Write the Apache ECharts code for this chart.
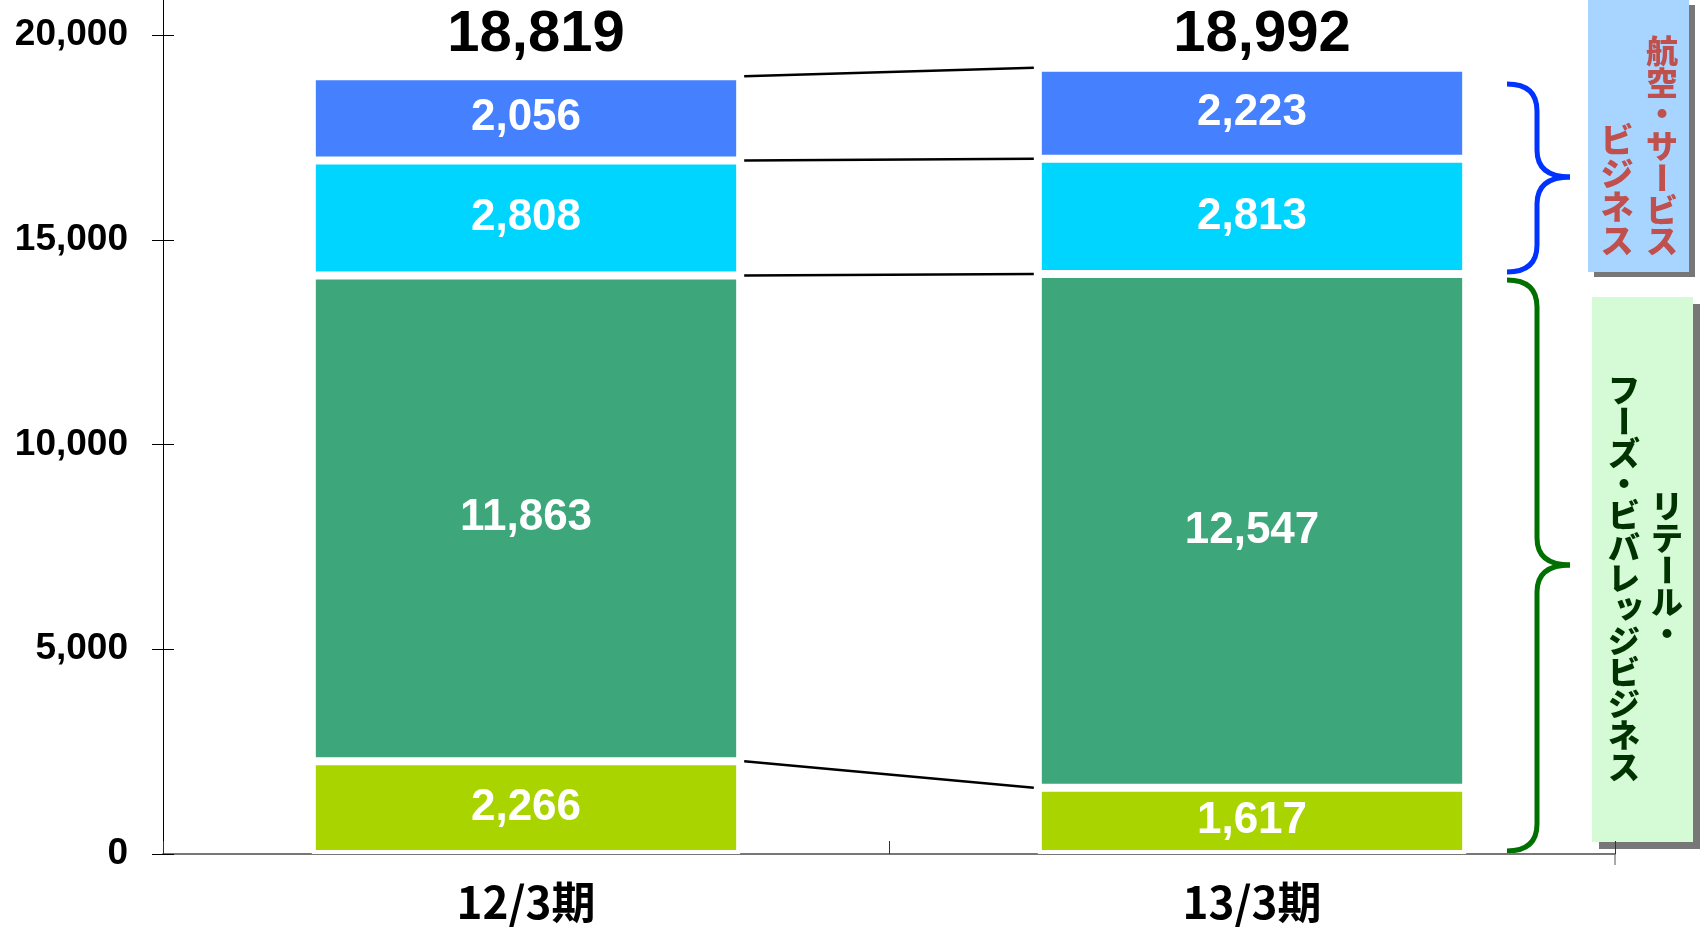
<!DOCTYPE html>
<html>
<head>
    <meta charset="utf-8" />
    <title>セグメント別売上高</title>
    <script src="https://cdn.jsdelivr.net/npm/echarts@6/dist/echarts.min.js"></script>
    <style>
        html, body { margin: 0; padding: 0; background: #fff; }
        #chart { width: 1700px; height: 927px; }
    </style>
</head>
<body>
    <div id="chart"></div>
    <script type="text/javascript">
        // 期
        const periods = ['12/3期', '13/3期'];
        // セグメント（下から積み上げ順）
        const retailSmall = [2266, 1617];    // 黄緑
        const retailMain = [11863, 12547];   // 緑
        const airService = [2808, 2813];     // 水色
        const airMain = [2056, 2223];        // 青
        // 合計（表示値）
        const totals = [18819, 18992];
        // 縦軸
        const yMin = 0, yMax = 20000, yStep = 5000;

        const layers = [retailSmall, retailMain, airService, airMain];
        const colors = ['#AAD400', '#3DA67B', '#00D5FF', '#4580FF'];
        const barRatio = 0.59;
        const numFont = 'Liberation Sans, Arial, sans-serif';
        const jpFont = '"Noto Sans CJK JP", sans-serif';

        // 積み上げの境界値（連結線用）
        const levels = [];
        let acc = [0, 0];
        layers.forEach(function (l) {
            acc = [acc[0] + l[0], acc[1] + l[1]];
            levels.push([0, acc[0], acc[1]]);
        });

        const fmt = function (v) { return v.toLocaleString('en-US'); };

        const barSeries = layers.map(function (l, i) {
            return {
                type: 'bar',
                stack: 'total',
                data: l,
                barWidth: (barRatio * 100) + '%',
                itemStyle: { color: colors[i], borderColor: '#fff', borderWidth: 4 },
                label: {
                    show: true,
                    position: 'inside',
                    color: '#fff',
                    fontSize: 44,
                    fontWeight: 'bold',
                    fontFamily: numFont,
                    formatter: function (p) { return fmt(p.value); }
                }
            };
        });

        // 波括弧
        function brace(x0, yTop, yBot, yTip, color) {
            const xs = x0 + 30, xt = x0 + 63, r = 27;
            const st = { stroke: color, lineWidth: 5, fill: null };
            return [
                { type: 'bezierCurve', shape: { x1: x0, y1: yTop, cpx1: xs, cpy1: yTop, x2: xs, y2: yTop + r }, style: st },
                { type: 'line', shape: { x1: xs, y1: yTop + r, x2: xs, y2: yTip - r }, style: st },
                { type: 'bezierCurve', shape: { x1: xs, y1: yTip - r, cpx1: xs, cpy1: yTip, x2: xt, y2: yTip }, style: st },
                { type: 'bezierCurve', shape: { x1: xt, y1: yTip, cpx1: xs, cpy1: yTip, x2: xs, y2: yTip + r }, style: st },
                { type: 'line', shape: { x1: xs, y1: yTip + r, x2: xs, y2: yBot - r }, style: st },
                { type: 'bezierCurve', shape: { x1: xs, y1: yBot - r, cpx1: xs, cpy1: yBot, x2: x0, y2: yBot }, style: st }
            ];
        }

        // 縦書きテキスト
        function vText(str, cx, top, pitch, size, color) {
            const out = [];
            Array.from(str).forEach(function (ch, i) {
                const el = {
                    type: 'text',
                    x: cx,
                    y: top + pitch * (i + 0.5),
                    style: {
                        text: ch,
                        fill: color,
                        font: '900 ' + size + 'px ' + jpFont,
                        align: 'center',
                        verticalAlign: 'middle'
                    }
                };
                if (ch === 'ー') el.rotation = -Math.PI / 2;
                if (ch === 'ッ') { el.x += 5; el.y -= 5; }
                out.push(el);
            });
            return out;
        }

        const graphics = [
            { type: 'line', shape: { x1: 163.5, y1: 0, x2: 163.5, y2: 36 }, style: { stroke: '#000', lineWidth: 1 } },
            { type: 'line', shape: { x1: 1615, y1: 854, x2: 1615, y2: 865 }, style: { stroke: '#555', lineWidth: 1 } },
            // 航空・サービス box
            { type: 'rect', shape: { x: 1594, y: 5, width: 101, height: 272 }, style: { fill: '#777' } },
            { type: 'rect', shape: { x: 1588, y: 0, width: 101, height: 272 }, style: { fill: '#A8D5FF' } },
            // リテール box
            { type: 'rect', shape: { x: 1599, y: 304, width: 101, height: 545 }, style: { fill: '#777' } },
            { type: 'rect', shape: { x: 1592, y: 297, width: 101, height: 545 }, style: { fill: '#D5FBD6' } }
        ]
            .concat(brace(1507, 84, 272, 177, '#0033FF'))
            .concat(brace(1507, 280, 851, 565, '#007000'))
            .concat(vText('航空・サービス', 1662, 35, 31.7, 32, '#C0504D'))
            .concat(vText('ビジネス', 1617, 123, 33.5, 33, '#C0504D'))
            .concat(vText('リテール・', 1667, 490, 32, 32, '#003300'))
            .concat(vText('フーズ・ビバレッジビジネス', 1624, 374, 31.4, 32, '#003300'));

        const chart = echarts.init(document.getElementById('chart'));
        const option = {
            animation: false,
            backgroundColor: '#fff',
            grid: { left: 163, right: 85, top: 35, bottom: 73 },
            xAxis: {
                type: 'category',
                data: periods,
                axisLine: { lineStyle: { color: '#777', width: 2 } },
                axisTick: { show: true, interval: 0, inside: true, length: 13, lineStyle: { color: '#333', width: 1 } },
                axisLabel: { fontSize: 44, fontWeight: 'bold', color: '#000', fontFamily: jpFont, margin: 26 }
            },
            yAxis: [{
                type: 'value',
                min: yMin,
                max: yMax,
                interval: yStep,
                axisLine: { show: true, lineStyle: { color: '#000', width: 1 } },
                axisTick: { show: true, length: 11, lineStyle: { color: '#000' } },
                splitLine: { show: false },
                axisLabel: { fontSize: 37, fontWeight: 'bold', color: '#000', fontFamily: numFont, margin: 35,
                    formatter: fmt }
            }, {
                type: 'value',
                position: 'left',
                min: yMin,
                max: yMax,
                interval: yStep,
                axisLine: { show: false },
                axisTick: { show: true, inside: true, length: 11, lineStyle: { color: '#000' } },
                splitLine: { show: false },
                axisLabel: { show: false }
            }],
            series: barSeries.concat([{
                type: 'custom',
                data: levels,
                encode: { x: 0, y: [1, 2] },
                z: 5,
                renderItem: function (params, api) {
                    const p0 = api.coord([0, api.value(1)]);
                    const p1 = api.coord([1, api.value(2)]);
                    const half = api.size([1, 0])[0] * barRatio / 2;
                    return {
                        type: 'line',
                        shape: { x1: p0[0] + half + 4, y1: p0[1], x2: p1[0] - half - 4, y2: p1[1] },
                        style: { stroke: '#000', lineWidth: 2.5 }
                    };
                }
            }, {
                type: 'scatter',
                data: periods.map(function (p, i) { return [i, yMax]; }),
                symbolSize: 1,
                itemStyle: { color: 'rgba(0,0,0,0)', opacity: 1 },
                label: {
                    show: true,
                    position: 'inside',
                    offset: [10, 0],
                    color: '#000',
                    fontSize: 58,
                    fontWeight: 'bold',
                    fontFamily: numFont,
                    formatter: function (p) { return fmt(totals[p.dataIndex]); }
                }
            }]),
            graphic: graphics
        };
        chart.setOption(option);
    </script>
</body>
</html>
